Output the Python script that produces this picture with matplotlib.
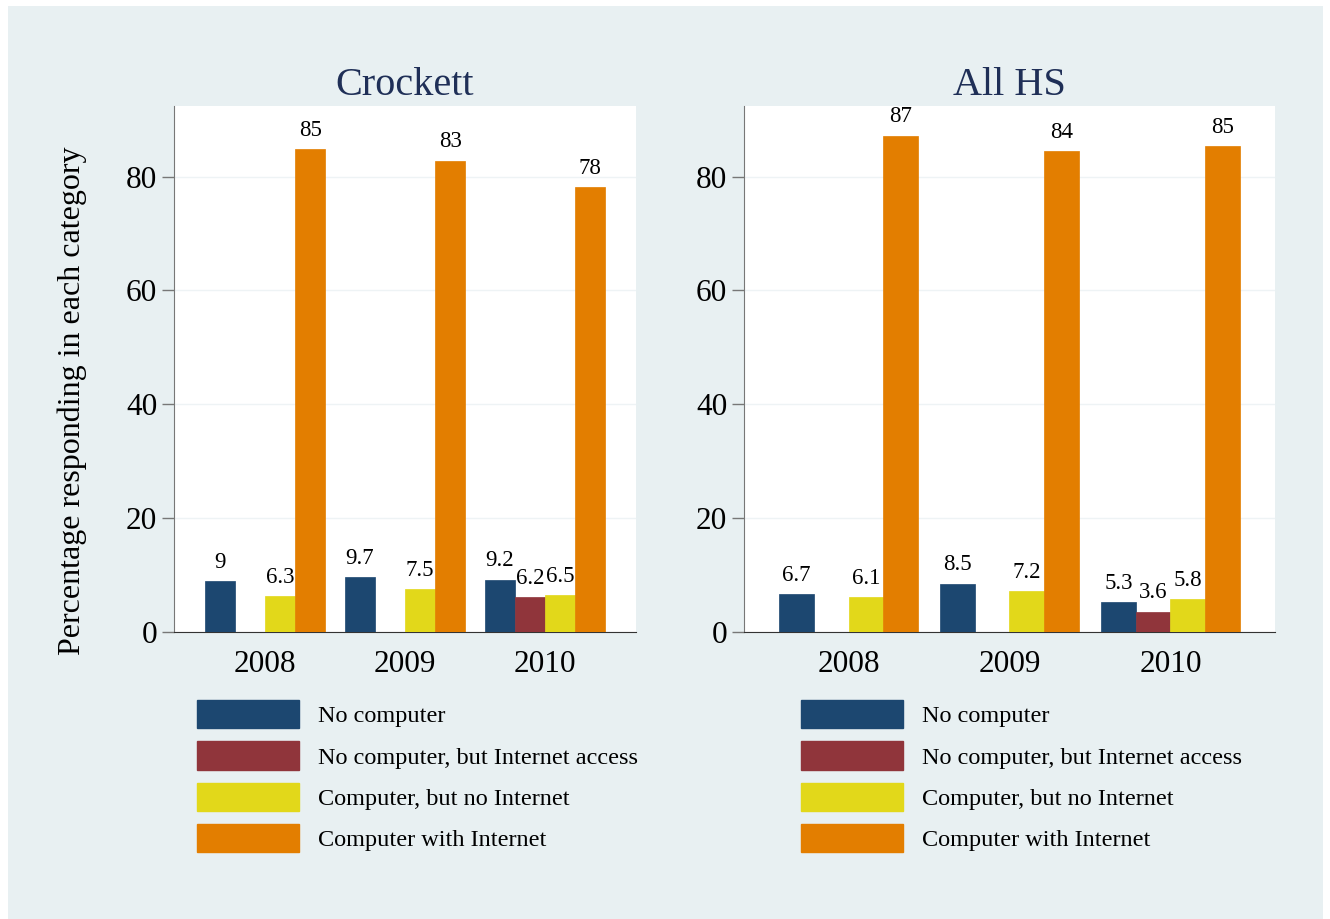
import numpy as np
import matplotlib
matplotlib.use("Agg")
import matplotlib.pyplot as plt
from matplotlib.patches import Patch, Rectangle

# data
years = ["2008", "2009", "2010"]
series = ["No computer", "No computer, but Internet access",
          "Computer, but no Internet", "Computer with Internet"]
colors = ["#1c4770", "#90353b", "#e2d81a", "#e37e00"]

crockett_no_comp = [9.0, 9.7, 9.2]
crockett_no_comp_inet = [np.nan, np.nan, 6.2]
crockett_comp_no_inet = [6.3, 7.5, 6.5]
crockett_comp_inet = [84.8, 82.8, 78.2]

allhs_no_comp = [6.7, 8.5, 5.3]
allhs_no_comp_inet = [np.nan, np.nan, 3.6]
allhs_comp_no_inet = [6.1, 7.2, 5.8]
allhs_comp_inet = [87.2, 84.5, 85.3]

panels = [
    ("Crockett", [crockett_no_comp, crockett_no_comp_inet, crockett_comp_no_inet, crockett_comp_inet]),
    ("All HS", [allhs_no_comp, allhs_no_comp_inet, allhs_comp_no_inet, allhs_comp_inet]),
]

plt.rcParams['font.family'] = ['Liberation Serif', 'DejaVu Serif']

W, H = 1330, 919
fig = plt.figure(figsize=(13.3, 9.19), dpi=100, facecolor="white")
bg = "#e8f0f2"
fig.patches.append(Rectangle((8 / W, 0), (1323 - 8) / W, (919 - 6) / H,
                             transform=fig.transFigure, facecolor=bg,
                             edgecolor="none", zorder=-10))

# axes boxes in pixels: (left, right), top 106, bottom 632
boxes = [(174, 636), (744, 1275)]
legend_x = [197, 801]
top, bottom = 106, 632
bw = 0.215
x = np.arange(len(years))

for (title, vals), (l, r), lx in zip(panels, boxes, legend_x):
    ax = fig.add_axes([l / W, 1 - bottom / H, (r - l) / W, (bottom - top) / H])
    ax.set_facecolor("white")
    for i, (v, c) in enumerate(zip(vals, colors)):
        pos = x + (i - 1.5) * bw
        ax.bar(pos, v, width=bw, color=c, edgecolor=c, linewidth=0.5, zorder=3)
        for px, pv in zip(pos, v):
            if np.isnan(pv):
                continue
            ax.annotate('{:.2g}'.format(pv), (px, pv), xytext=(0, 9.5),
                        textcoords="offset points", ha="center", va="baseline",
                        fontsize=16.5, color="black", zorder=4)
    ax.set_xlim(-0.65, 2.65)
    ax.set_ylim(0, 92.4)
    ax.set_yticks([0, 20, 40, 60, 80])
    ax.set_xticks(x)
    ax.set_xticklabels(years)
    ax.tick_params(axis="x", length=0, pad=13, labelsize=22.5)
    ax.tick_params(axis="y", length=8.6, width=1, color="#777777", pad=3.5, labelsize=22.5)
    ax.grid(axis="y", color="#eef3f5", linewidth=1, zorder=0)
    ax.set_axisbelow(True)
    for s in ["top", "right"]:
        ax.spines[s].set_visible(False)
    ax.spines["left"].set_color("#777777")
    ax.spines["bottom"].set_color("#333333")
    ax.set_title(title, fontsize=29, color="#1f2f57", pad=8)

    handles = [Patch(facecolor=c, edgecolor=c) for c in colors]
    fig.legend(handles, series, loc="upper left",
               bbox_to_anchor=(lx / W, 1 - 700 / H), bbox_transform=fig.transFigure,
               frameon=False, fontsize=17.5, borderpad=0, borderaxespad=0,
               handlelength=4.2, handleheight=1.4, handletextpad=0.77,
               labelspacing=0.55)

fig.text(72 / W, 1 - 401 / H, "Percentage responding in each category",
         rotation=90, ha="center", va="center", fontsize=23)

fig.savefig("out.png", dpi=100, facecolor=fig.get_facecolor())
